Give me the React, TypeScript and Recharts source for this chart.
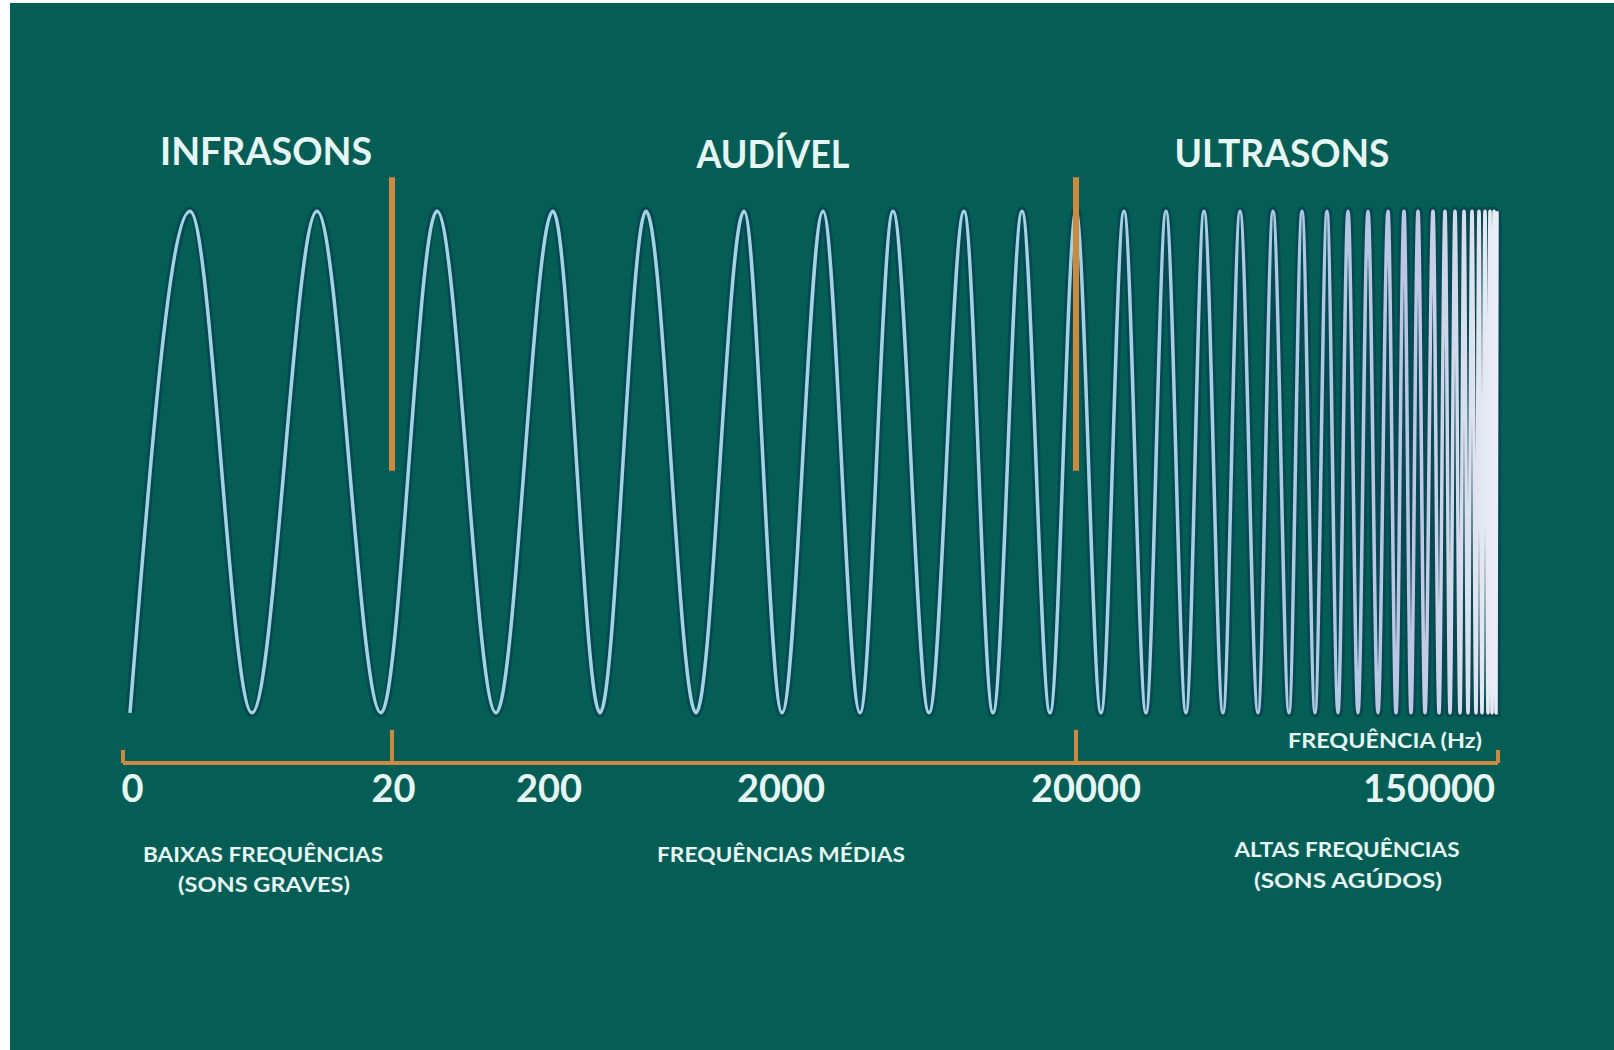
import React from "react";
import { LineChart, Line, XAxis, YAxis, ReferenceLine } from "recharts";

// Positions along the frequency axis (0 = axis start, 1375 = axis end)
const crestPositions = [
  67, 194, 314, 430, 523, 621, 700, 770, 841, 899, 953, 1001, 1043, 1081, 1117,
  1150, 1179, 1204, 1225, 1245, 1265, 1281, 1295, 1310, 1322, 1332, 1341, 1349,
  1356, 1362, 1367, 1371, 1374,
];
const troughPositions = [
  7, 129, 258, 373, 477, 573, 659, 737, 806, 870, 927, 978, 1023, 1063, 1100,
  1135, 1166, 1192, 1215, 1235, 1255, 1273, 1288, 1302, 1316, 1327, 1337, 1345,
  1353, 1359, 1365, 1369, 1373,
];

const tickLabels = ["0", "20", "200", "2000", "20000", "150000"];
const tickLabelPositions = [9.5, 270.5, 426, 658, 963, 1306];

const bandBoundaries = [0, 269, 953, 1375];
const separatorPositions = [269, 953];

const regionTitles = ["INFRASONS", "AUDÍVEL", "ULTRASONS"];
const bandNotes = [
  ["BAIXAS FREQUÊNCIAS", "(SONS GRAVES)"],
  ["FREQUÊNCIAS MÉDIAS"],
  ["ALTAS FREQUÊNCIAS", "(SONS AGÚDOS)"],
];
const axisTitle = "FREQUÊNCIA (Hz)";

const waveData = [
  ...crestPositions.map((pos) => ({ pos, level: 1 })),
  ...troughPositions.map((pos) => ({ pos, level: -1 })),
].sort((a, b) => a.pos - b.pos);

const BG = "#045e55";
const ORANGE = "#cc8940";
const TEXT = "#e6f6f4";
const FONT = "Lato, 'Open Sans', sans-serif";

const FreqTick = (props: any) => {
  const { x, y, index } = props;
  return (
    <text
      x={x}
      y={y + 39}
      textAnchor="middle"
      fill={TEXT}
      fontFamily={FONT}
      fontWeight={700}
      fontSize={38}
    >
      {tickLabels[index]}
    </text>
  );
};

const titleLayout = [
  { x: 266, y: 165, w: 212 },
  { x: 773, y: 168, w: 153 },
  { x: 1282, y: 167, w: 215 },
];
const noteLayout = [
  [
    { x: 263, y: 862, w: 240 },
    { x: 264, y: 892, w: 172 },
  ],
  [{ x: 781, y: 862, w: 248 }],
  [
    { x: 1347, y: 857, w: 225 },
    { x: 1348, y: 888, w: 188 },
  ],
];

export default function App() {
  return (
    <div style={{ position: "relative", width: 1614, height: 1050, background: "#ffffff" }}>
      <style>{"body{margin:0;}"}</style>
      <div
        style={{
          position: "absolute",
          left: 10,
          top: 3,
          width: 1604,
          height: 1047,
          background: BG,
        }}
      />
      <div style={{ position: "absolute", left: 0, top: 0 }}>
        <LineChart
          width={1614}
          height={1050}
          data={waveData}
          margin={{ top: 171, right: 116, bottom: 257, left: 123 }}
        >
          <defs>
            <linearGradient id="waveGrad" gradientUnits="userSpaceOnUse" x1="0" y1="0" x2="1614" y2="0">
              <stop offset="0" stopColor="#a0d5e1" />
              <stop offset="0.66" stopColor="#a3d4e2" />
              <stop offset="0.8" stopColor="#aacbe2" />
              <stop offset="0.875" stopColor="#bcc6e3" />
              <stop offset="0.93" stopColor="#edf0f5" />
            </linearGradient>
          </defs>
          <XAxis
            dataKey="pos"
            type="number"
            domain={[0, 1375]}
            ticks={tickLabelPositions}
            interval={0}
            tick={<FreqTick />}
            tickLine={false}
            tickSize={0}
            tickMargin={0}
            height={30}
            axisLine={{ stroke: ORANGE, strokeWidth: 4 }}
          />
          <YAxis type="number" domain={[-1.2, 1.16]} hide width={0} />
          <Line
            type="monotone"
            dataKey="level"
            stroke="#083f52"
            strokeOpacity={0.7}
            strokeWidth={9}
            dot={false}
            activeDot={false}
            isAnimationActive={false}
          />
          <Line
            type="monotone"
            dataKey="level"
            stroke="url(#waveGrad)"
            strokeWidth={3.5}
            dot={false}
            activeDot={false}
            isAnimationActive={false}
          />
          {separatorPositions.map((p) => (
            <ReferenceLine
              key={"sep" + p}
              segment={[
                { x: p, y: 1.135 },
                { x: p, y: -0.035 },
              ]}
              stroke={ORANGE}
              strokeWidth={6}
            />
          ))}
          {bandBoundaries.map((p, i) => (
            <ReferenceLine
              key={"tick" + p}
              segment={[
                { x: p, y: -1.2 },
                { x: p, y: i === 0 || i === bandBoundaries.length - 1 ? -1.148 : -1.068 },
              ]}
              stroke={ORANGE}
              strokeWidth={4}
            />
          ))}
        </LineChart>
      </div>
      <svg
        width={1614}
        height={1050}
        style={{ position: "absolute", left: 0, top: 0, pointerEvents: "none" }}
      >
        {regionTitles.map((t, i) => (
          <text
            key={t}
            x={titleLayout[i].x}
            y={titleLayout[i].y}
            textAnchor="middle"
            fill={TEXT}
            fontFamily={FONT}
            fontWeight={700}
            fontSize={38}
            textLength={titleLayout[i].w}
            lengthAdjust="spacingAndGlyphs"
          >
            {t}
          </text>
        ))}
        {bandNotes.map((lines, i) =>
          lines.map((line, j) => (
            <text
              key={line}
              x={noteLayout[i][j].x}
              y={noteLayout[i][j].y}
              textAnchor="middle"
              fill={TEXT}
              fontFamily={FONT}
              fontWeight={700}
              fontSize={21}
              textLength={noteLayout[i][j].w}
              lengthAdjust="spacingAndGlyphs"
            >
              {line}
            </text>
          ))
        )}
        <text
          x={1385}
          y={748}
          textAnchor="middle"
          fill={TEXT}
          fontFamily={FONT}
          fontWeight={700}
          fontSize={20}
          textLength={194}
          lengthAdjust="spacingAndGlyphs"
        >
          {axisTitle}
        </text>
      </svg>
    </div>
  );
}
